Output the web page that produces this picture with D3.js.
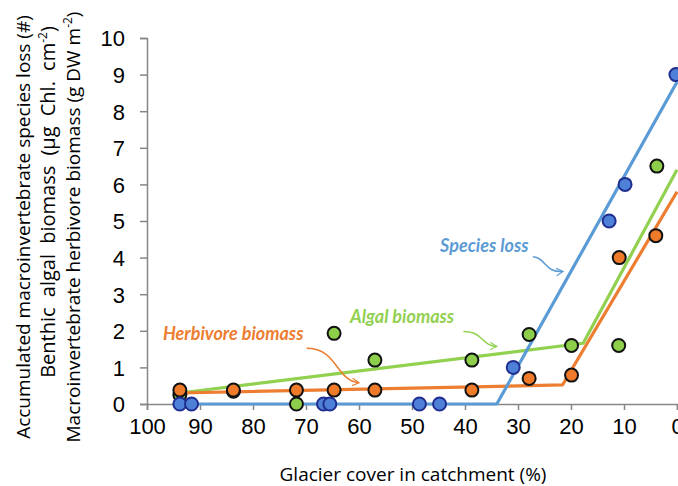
<!DOCTYPE html>
<html>
<head>
<meta charset="utf-8">
<script src="https://cdn.jsdelivr.net/npm/d3@7"></script>
<style>
  body { margin: 0; background: #fff; }
  svg { display: block; }
</style>
</head>
<body>
<div id="chart"></div>
<script>
// glacier cover (%) and values
const speciesGlacier = [93.8, 91.6, 66.7, 65.5, 48.6, 44.8, 30.9, 12.8, 9.8, 0.2];
const speciesLoss    = [0, 0, 0, 0, 0, 0, 1, 5, 6, 9];

const algalGlacier = [93.8, 83.7, 71.8, 64.7, 57, 38.7, 27.9, 19.9, 11, 3.8];
const algalBiomass = [0.25, 0.35, 0, 1.93, 1.2, 1.2, 1.9, 1.6, 1.6, 6.5];

const herbGlacier = [93.8, 83.7, 71.8, 64.7, 57, 38.7, 27.9, 19.9, 10.9, 4];
const herbBiomass = [0.38, 0.38, 0.38, 0.38, 0.38, 0.38, 0.7, 0.79, 4.0, 4.6];

// broken-stick fits (glacier, value)
const speciesFit = [[93.8, 0], [34, 0], [0, 8.8]];
const algalFit   = [[93.8, 0.3], [17.7, 1.66], [0, 6.4]];
const herbFit    = [[93.8, 0.3], [21.6, 0.52], [0, 5.8]];

const xTicks = [100, 90, 80, 70, 60, 50, 40, 30, 20, 10, 0];
const yTicks = d3.range(0, 11);

const width = 678, height = 486;
const margin = {left: 148, right: 1, top: 38, bottom: 82};

const svg = d3.select("#chart").append("svg")
    .attr("width", width)
    .attr("height", height);

const x = d3.scaleLinear().domain([100, 0]).range([margin.left - 1, width - 1]);
const y = d3.scaleLinear().domain([0, 10]).range([height - margin.bottom, margin.top]);

const axisColor = "#868686";

const gx = svg.append("g")
    .attr("transform", `translate(0,${y(0)})`)
    .call(d3.axisBottom(x).tickValues(xTicks).tickSize(6).tickPadding(8).tickFormat(d3.format("d")));
const gy = svg.append("g")
    .attr("transform", `translate(${x(100)},0)`)
    .call(d3.axisLeft(y).tickValues(yTicks).tickSize(7).tickPadding(15));

[gx, gy].forEach(g => {
  g.select(".domain").attr("stroke", axisColor).attr("stroke-width", 1.5);
  g.selectAll(".tick line").attr("stroke", axisColor).attr("stroke-width", 1.5);
  g.selectAll(".tick text")
    .attr("fill", "#000")
    .style("font-family", "'Liberation Sans', Arial, sans-serif")
    .style("font-size", "22px");
});
gy.selectAll(".tick text").attr("dy", "0.36em");

// titles
const titleFont = "'Open Sans', Lato, sans-serif";
const labelFont = "Lato, 'Open Sans', sans-serif";
svg.append("text")
    .attr("x", 413).attr("y", 481)
    .attr("text-anchor", "middle")
    .style("font-family", titleFont)
    .style("font-size", "19px")
    .text("Glacier cover in catchment (%)");

const yTitles = [
  {x: 30, cy: 227, size: 19, ws: 0, parts: [["Accumulated macroinvertebrate species loss (#)", false]]},
  {x: 55, cy: 202, size: 20, ws: 5, parts: [["Benthic algal biomass (\u00b5g Chl. cm", false], ["-2", true], [")", false]]},
  {x: 80, cy: 227, size: 19, ws: 0, parts: [["Macroinvertebrate herbivore biomass (g DW m", false], ["-2", true], [")", false]]}
];
yTitles.forEach(t => {
  const txt = svg.append("text")
      .attr("transform", `translate(${t.x},${t.cy}) rotate(-90)`)
      .attr("text-anchor", "middle")
      .style("font-family", titleFont)
      .style("font-size", `${t.size}px`)
      .style("word-spacing", `${t.ws}px`);
  t.parts.forEach(([s, sup]) => {
    const ts = txt.append("tspan").text(s);
    if (sup) ts.attr("baseline-shift", "super").style("font-size", "12px");
  });
});

const series = [
  {name: "algal", gl: algalGlacier, val: algalBiomass, fit: algalFit, line: "#92D050", fill: "#8DCF4A", stroke: "#111"},
  {name: "herb", gl: herbGlacier, val: herbBiomass, fit: herbFit, line: "#ED7D31", fill: "#EE7A2A", stroke: "#111"},
  {name: "species", gl: speciesGlacier, val: speciesLoss, fit: speciesFit, line: "#5B9BD5", fill: "#4D80D6", stroke: "#1F2E8F"}
];

const line = d3.line().x(d => x(d[0])).y(d => y(d[1]));

svg.append("g").selectAll("path")
  .data(series)
  .join("path")
    .attr("fill", "none")
    .attr("stroke", d => d.line)
    .attr("stroke-width", 3.2)
    .attr("stroke-linejoin", "round")
    .attr("d", d => line(d.fit));

series.forEach(s => {
  svg.append("g").selectAll("circle")
    .data(s.gl.map((g, i) => [g, s.val[i]]))
    .join("circle")
      .attr("cx", d => x(d[0]))
      .attr("cy", d => y(d[1]))
      .attr("r", 6.5)
      .attr("fill", s.fill)
      .attr("stroke", s.stroke)
      .attr("stroke-width", 2);
});

// annotations: label position and curved arrow, in data space
const annotations = [
  {text: "Species loss", color: "#5B9BD5", at: [44.7, 4.15],
   arrow: [[27.2, 4.02], [24.7, 4.0], [25.0, 3.58], [21.5, 3.62]]},
  {text: "Algal biomass", color: "#92D050", at: [61.7, 2.2],
   arrow: [[40.3, 1.98], [36.5, 1.98], [37.0, 1.6], [34.0, 1.57]]},
  {text: "Herbivore biomass", color: "#ED7D31", at: [97, 1.75],
   arrow: [[69.9, 1.52], [64.0, 1.52], [64.5, 0.65], [60.0, 0.58]]}
];

const defs = svg.append("defs");
annotations.forEach((a, i) => {
  defs.append("marker")
      .attr("id", `head-${i}`)
      .attr("viewBox", "0 -6 10 12")
      .attr("refX", 9).attr("refY", 0)
      .attr("markerWidth", 8).attr("markerHeight", 9)
      .attr("markerUnits", "userSpaceOnUse")
      .attr("orient", "auto")
    .append("path")
      .attr("d", "M0,-5L9,0L0,5")
      .attr("fill", "none")
      .attr("stroke", a.color)
      .attr("stroke-width", 1.5);
});

annotations.forEach((a, i) => {
  svg.append("text")
      .attr("x", x(a.at[0])).attr("y", y(a.at[1]))
      .attr("fill", a.color)
      .style("font-family", labelFont)
      .style("font-size", "18px")
      .style("font-weight", "bold")
      .style("font-style", "italic")
      .text(a.text);
  const p = a.arrow.map(d => [x(d[0]), y(d[1])]);
  svg.append("path")
      .attr("d", `M${p[0]}C${p[1]} ${p[2]} ${p[3]}`)
      .attr("fill", "none")
      .attr("stroke", a.color)
      .attr("stroke-width", 1.5)
      .attr("marker-end", `url(#head-${i})`);
});
</script>
</body>
</html>
